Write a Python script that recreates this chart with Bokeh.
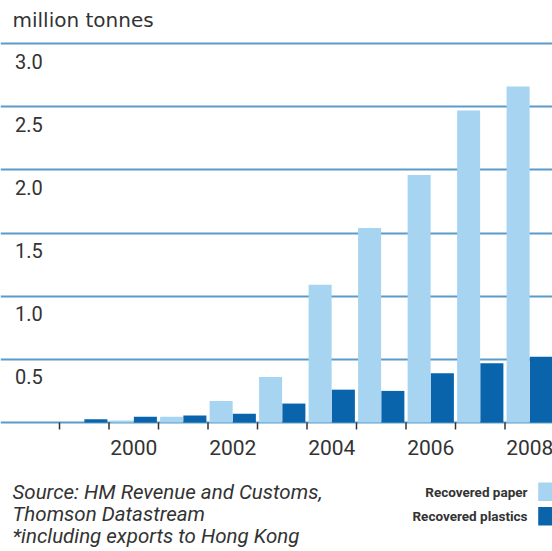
from bokeh.plotting import figure
from bokeh.models import Range1d, FixedTicker, Grid
from bokeh.core.properties import value
from bokeh.embed import file_html
from bokeh.resources import INLINE

# ---- data ----
years = [1999, 2000, 2001, 2002, 2003, 2004, 2005, 2006, 2007, 2008]
paper = [0.0, 0.015, 0.045, 0.17, 0.36, 1.09, 1.54, 1.96, 2.47, 2.66]
plastics = [0.025, 0.045, 0.055, 0.07, 0.15, 0.26, 0.25, 0.39, 0.47, 0.52]
y_ticks = [0.5, 1.0, 1.5, 2.0, 2.5, 3.0]
y_tick_labels = ["0.5", "1.0", "1.5", "2.0", "2.5", "3.0"]
x_label_years = [2000, 2002, 2004, 2006, 2008]
title_text = "million tonnes"
source_lines = ["Source: HM Revenue and Customs,",
                "Thomson Datastream",
                "*including exports to Hong Kong"]
series_names = ["Recovered paper", "Recovered plastics"]

# ---- style / geometry ----
LIGHT = "#a6d4f1"
DARK = "#0a64ab"
GRID = "#5b9bc9"
TEXT = "#333333"
BAR_W = 0.465
DODGE = 0.235

W, H = 552, 551
PX_X = 49.5      # pixels per year
PX_Y = 126.3     # pixels per million tonnes
X0 = 1998.5 - 59 / PX_X          # data x at left canvas edge
Y_TOP = 422 / PX_Y                # data y at top canvas edge
x_range = Range1d(X0, X0 + W / PX_X)
y_range = Range1d(Y_TOP - H / PX_Y, Y_TOP)


def dx(px):  # canvas pixel x -> data x
    return X0 + px / PX_X


def dy(px):  # canvas pixel y (from top) -> data y
    return Y_TOP - px / PX_Y


p = figure(width=W, height=H, output_backend="svg", toolbar_location=None,
           x_range=x_range, y_range=y_range,
           x_axis_location=None, y_axis_location=None,
           min_border_left=0, min_border_right=0, min_border_top=0, min_border_bottom=0)
p.outline_line_color = None
p.background_fill_color = "white"
p.border_fill_color = "white"
for g in p.grid:
    g.visible = False

p.add_layout(Grid(dimension=1, ticker=FixedTicker(ticks=[0.0] + y_ticks),
                  bounds=(dx(12), x_range.end),
                  grid_line_color=GRID, grid_line_width=2))

p.vbar(x=[y - DODGE for y in years], top=paper, width=BAR_W, bottom=0,
       fill_color=LIGHT, line_color=None)
p.vbar(x=[y + DODGE for y in years], top=plastics, width=BAR_W, bottom=0,
       fill_color=DARK, line_color=None)

# tick marks at the boundaries between years
bounds_x = [y - 0.5 for y in years]
p.segment(x0=bounds_x, y0=[0] * len(bounds_x), x1=bounds_x,
          y1=[-7 / PX_Y] * len(bounds_x), line_color=TEXT, line_width=1.5)

# year labels
p.text(x=x_label_years, y=[-24.5 / PX_Y] * len(x_label_years),
       text=[str(v) for v in x_label_years],
       text_font=value("Roboto"), text_font_size="21px", text_color=TEXT,
       text_align="center", text_baseline="middle")

# y tick labels, inside the plot below each gridline
p.text(x=[dx(14.5)] * len(y_ticks), y=[v - 17.5 / PX_Y for v in y_ticks],
       text=y_tick_labels, text_font=value("Roboto"), text_font_size="20px",
       text_color=TEXT, text_align="left", text_baseline="middle")

# title
p.text(x=[dx(12)], y=[dy(19.5)], text=[title_text],
       text_font=value("DejaVu Sans"), text_font_size="20px", text_color=TEXT,
       text_baseline="middle")

# source lines
p.text(x=[dx(12)] * 3, y=[dy(491.5), dy(513.5), dy(535.5)], text=source_lines,
       text_font=value("Roboto"), text_font_style="italic", text_font_size="20.5px",
       text_color=TEXT, text_baseline="middle")

# legend
p.quad(left=[dx(537.7)] * 2, right=[dx(560)] * 2,
       top=[dy(482), dy(506.5)], bottom=[dy(500.5), dy(525)],
       fill_color=[LIGHT, DARK], line_color=None)
p.text(x=[dx(527)] * 2, y=[dy(491), dy(515.7)], text=series_names,
       text_font=value("Roboto"), text_font_style="bold", text_font_size="13.5px",
       text_color=TEXT, text_align="right", text_baseline="middle")

open("out.html", "w").write(file_html(p, INLINE))
